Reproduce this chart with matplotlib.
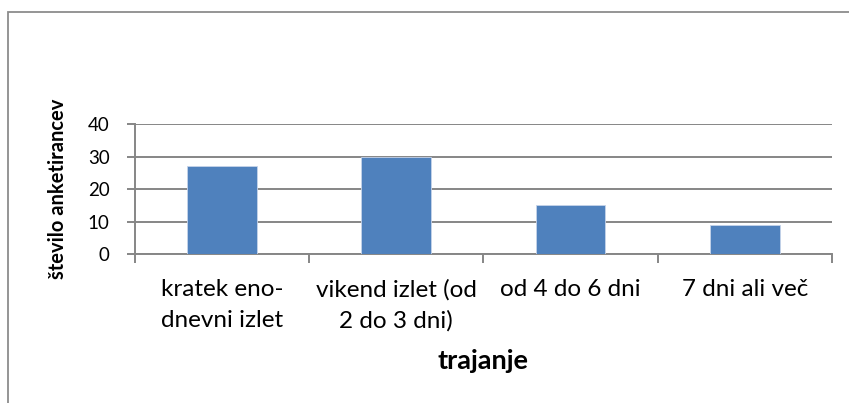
import matplotlib.pyplot as plt
from matplotlib.patches import Rectangle

# Survey answers: how long the trip lasts
categories = ["kratek eno-\ndnevni izlet", "vikend izlet (od\n2 do 3 dni)",
              "od 4 do 6 dni", "7 dni ali več"]
counts = [27, 30, 15, 9]
y_ticks = [0, 10, 20, 30, 40]

plt.rcParams["font.family"] = ["Lato", "DejaVu Sans"]
grid_col = "#868686"

fig = plt.figure(figsize=(8.49, 4.03), dpi=100)
fig.patch.set_facecolor("white")

# chart frame
fig.patches.append(Rectangle((8 / 849, -0.1), 1.1, 1 - 12 / 403 + 0.1,
                             transform=fig.transFigure, fill=False,
                             edgecolor="#8c8c8c", linewidth=1.3))

ax = fig.add_axes([134.7 / 849, 148.7 / 403, 697.3 / 849, 130.3 / 403])
x = range(len(categories))
ax.bar(x, counts, width=0.4, color="#4F81BD", edgecolor="#c6d4ea",
       linewidth=0.6, zorder=3)

ax.set_xlim(-0.5, len(categories) - 0.5)
ax.set_ylim(0, 40)
ax.set_yticks(y_ticks)
ax.grid(axis="y", color=grid_col, linewidth=1.4, zorder=0)

# boundary ticks between categories, labels sit under the bars
ax.set_xticks([i - 0.5 for i in range(len(categories) + 1)])
ax.set_xticklabels([])
ax.set_xticks(list(x), minor=True)
ax.set_xticklabels(categories, minor=True, fontsize=17.5, linespacing=1.55)
ax.tick_params(axis="x", which="major", length=6.5, width=1.4, color=grid_col)
ax.tick_params(axis="x", which="minor", length=0, pad=18)
ax.tick_params(axis="y", length=6, width=1.4, color=grid_col, labelsize=13.5, pad=12)

for side in ["top", "right"]:
    ax.spines[side].set_visible(False)
for side in ["left", "bottom"]:
    ax.spines[side].set_color(grid_col)
    ax.spines[side].set_linewidth(1.4)

ax.set_xlabel("trajanje", fontsize=19.5, fontweight="bold")
ax.xaxis.set_label_coords(0.5, -0.73)
fig.text(58 / 849, 1 - 189 / 403, "število anketirancev", rotation=90,
         ha="center", va="center", fontsize=14.5, fontweight="bold")

fig.savefig("out.png", dpi=100)
